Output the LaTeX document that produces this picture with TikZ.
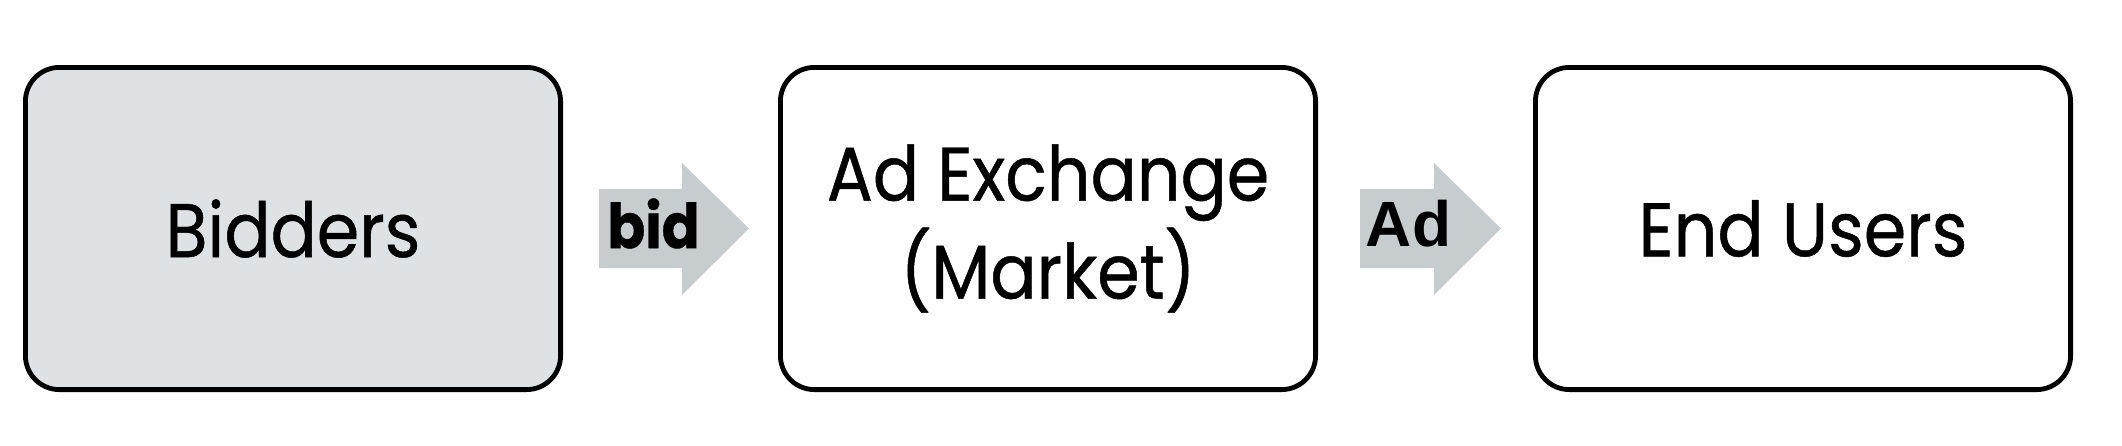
\documentclass[tikz,border=0pt]{standalone}
\usepackage{fontspec}
\setmainfont{Poppins}[FakeStretch=0.9,FakeBold=0.6]
\newfontfamily\adfont{Liberation Sans}
\usepackage{xcolor}
\usetikzlibrary{positioning}

\definecolor{boxgray}{RGB}{223,226,229}
\definecolor{arrowgray}{RGB}{199,204,207}

\begin{document}
\begin{tikzpicture}[x=0.5pt,y=-0.5pt,
  box/.style={draw=black,line width=2.4pt,rounded corners=17pt,
    minimum width=267.6pt,minimum height=161.1pt,inner sep=0pt,
    align=center,font=\fontsize{38}{49}\selectfont},
  arrowtext/.style={inner sep=0pt,font=\fontsize{31}{36}\selectfont\bfseries}]
\useasboundingbox (0,0) rectangle (2122,445);
\node[box,fill=boxgray] (bidders) at (293,228.5) {Bidders};
\node[box,right=107.5pt of bidders] (exchange) {Ad Exchange\\(Market)};
\node[box,right=107.5pt of exchange] (users) {End Users};
% block arrows between the boxes
\fill[arrowgray] (599,189) -- (682,189) -- (682,163) -- (749,228.5)
  -- (682,295) -- (682,268) -- (599,268) -- cycle;
\fill[arrowgray] (1360,189) -- (1434,189) -- (1434,163) -- (1501,228.5)
  -- (1434,295) -- (1434,268) -- (1360,268) -- cycle;
\node[arrowtext] (bid) at (653.5,223.5) {bid};
\node[arrowtext,font=\fontsize{32}{38}\selectfont\adfont\bfseries] (ad) at (1408.5,223.5) {Ad};
\end{tikzpicture}
\end{document}
